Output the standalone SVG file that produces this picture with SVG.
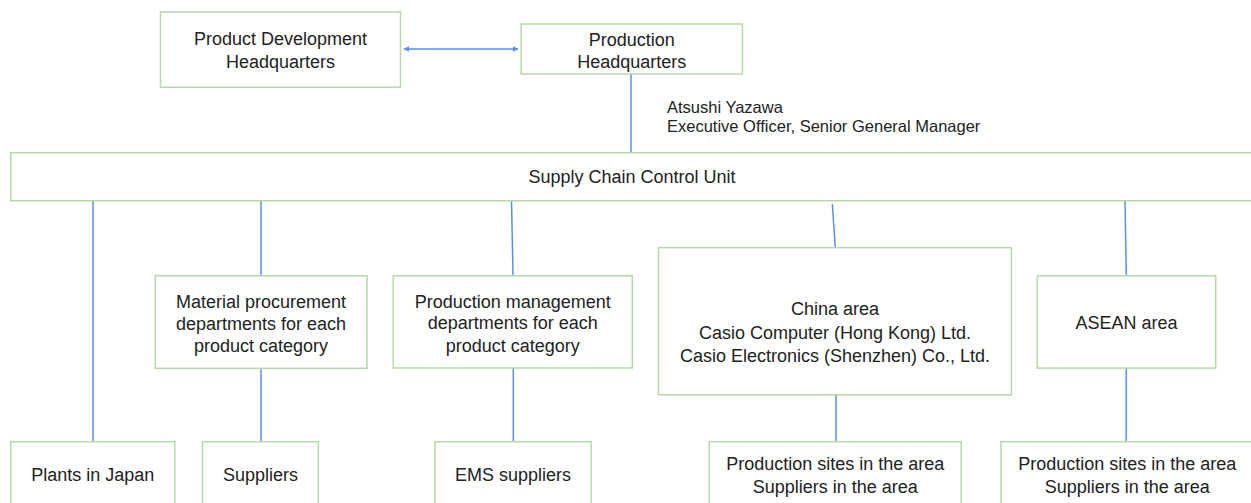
<svg xmlns="http://www.w3.org/2000/svg" width="1251" height="503" viewBox="0 0 1251 503">
<style>
.box{fill:#fff;stroke:#b6d7a8;stroke-width:1.5}
.ln{stroke:#5b8def;stroke-width:1.5;fill:none}
text{font-family:"Liberation Sans",Arial,sans-serif;font-size:18px;fill:#222;text-anchor:middle}
.sm{font-size:16.5px;text-anchor:start}
</style>
<defs>
<marker id="ah" viewBox="0 0 10 10" refX="9" refY="5" markerWidth="4" markerHeight="4" orient="auto-start-reverse">
<path d="M0,0 L10,5 L0,10 z" fill="#5b8def"/>
</marker>
</defs>
<rect width="1251" height="503" fill="#fff"/>
<g id="connectors">
<line class="ln" x1="404" y1="49" x2="518" y2="49" marker-start="url(#ah)" marker-end="url(#ah)"/>
<line class="ln" x1="631" y1="74" x2="631" y2="152.7"/>
<line class="ln" x1="93" y1="200.7" x2="93" y2="441.7"/>
<line class="ln" x1="261" y1="200.7" x2="261" y2="275.7"/>
<line class="ln" x1="261" y1="368.3" x2="261" y2="441.7"/>
<line class="ln" x1="511.5" y1="200.7" x2="513" y2="275.7"/>
<line class="ln" x1="513.3" y1="368" x2="513.3" y2="441.7"/>
<line class="ln" x1="832.3" y1="204" x2="835.3" y2="247.7"/>
<line class="ln" x1="836" y1="394.8" x2="836" y2="441.7"/>
<line class="ln" x1="1125" y1="200.7" x2="1126.3" y2="275.7"/>
<line class="ln" x1="1126.3" y1="368" x2="1126.3" y2="441.7"/>
</g>
<g id="pdh"><rect class="box" x="160.5" y="12" width="240" height="75.3"/>
<text x="280.5" y="44.5">Product Development</text><text x="280.5" y="68">Headquarters</text></g>
<g id="phq"><rect class="box" x="521.2" y="24" width="221.2" height="50"/>
<text x="631.8" y="45.5">Production</text><text x="631.8" y="68">Headquarters</text></g>
<g id="officer"><text class="sm" x="667" y="113">Atsushi Yazawa</text><text class="sm" x="667" y="132">Executive Officer, Senior General Manager</text></g>
<g id="scu"><rect class="box" x="10.7" y="152.7" width="1243" height="48"/>
<text x="632" y="183">Supply Chain Control Unit</text></g>
<g id="material"><rect class="box" x="155.3" y="275.7" width="211.7" height="92.6"/>
<text x="261" y="308">Material procurement</text><text x="261" y="329.5">departments for each</text><text x="261" y="351.5">product category</text></g>
<g id="prodmgmt"><rect class="box" x="393.3" y="275.7" width="239" height="92.3"/>
<text x="512.8" y="307.5">Production management</text><text x="512.8" y="329.2">departments for each</text><text x="512.8" y="351.5">product category</text></g>
<g id="china"><rect class="box" x="658.5" y="247.7" width="352.9" height="147.1"/>
<text x="835" y="314.8">China area</text><text x="835" y="339.2">Casio Computer (Hong Kong) Ltd.</text><text x="835" y="361.5">Casio Electronics (Shenzhen) Co., Ltd.</text></g>
<g id="asean"><rect class="box" x="1037.3" y="275.7" width="178.4" height="92.4"/>
<text x="1126.5" y="329.2">ASEAN area</text></g>
<g id="plants"><rect class="box" x="10.7" y="441.7" width="164.1" height="80"/>
<text x="92.8" y="480.5">Plants in Japan</text></g>
<g id="suppliers"><rect class="box" x="202.5" y="441.7" width="115.8" height="80"/>
<text x="260.4" y="480.5">Suppliers</text></g>
<g id="ems"><rect class="box" x="435" y="441.7" width="156.1" height="80"/>
<text x="513" y="480.5">EMS suppliers</text></g>
<g id="sites-china"><rect class="box" x="709.3" y="441.7" width="251.9" height="80"/>
<text x="835.3" y="469.8">Production sites in the area</text><text x="835.3" y="492.5">Suppliers in the area</text></g>
<g id="sites-asean"><rect class="box" x="1001" y="441.7" width="252" height="80"/>
<text x="1127.2" y="469.8">Production sites in the area</text><text x="1127.2" y="492.5">Suppliers in the area</text></g>
</svg>
